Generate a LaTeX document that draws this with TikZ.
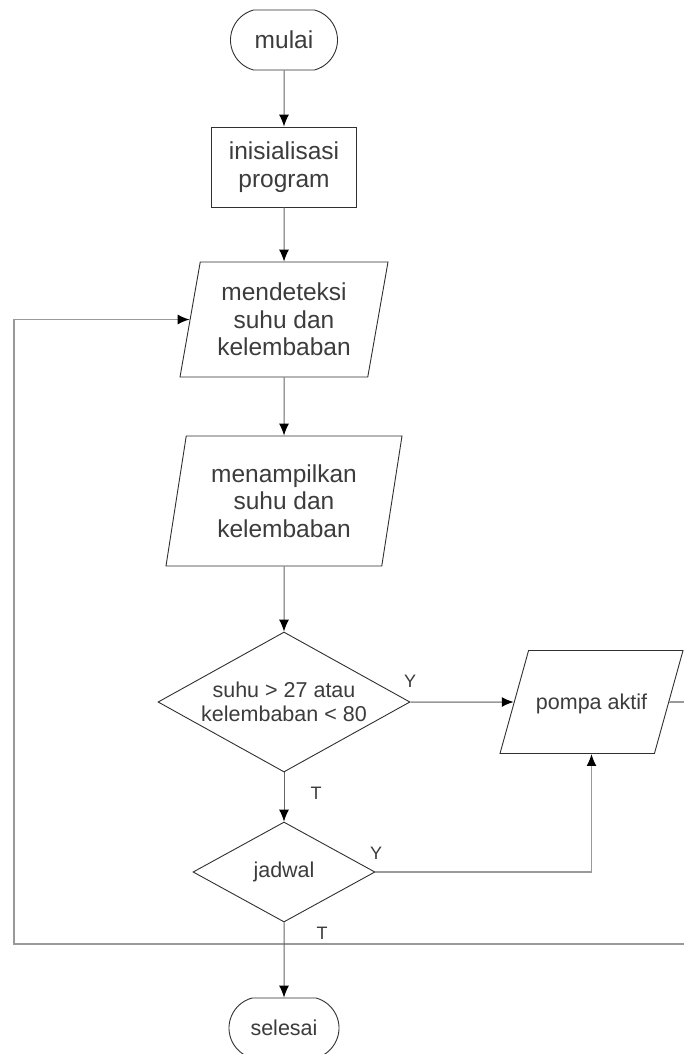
\documentclass[tikz,border=0pt]{standalone}
\usepackage{fontspec}
\setmainfont{Liberation Sans}
\usetikzlibrary{shapes.geometric,shapes.misc,arrows.meta}
\definecolor{txt}{HTML}{3C3C3C}
\definecolor{edgec}{HTML}{303030}
\definecolor{lnk}{HTML}{666666}
\definecolor{lnklight}{HTML}{999999}
\tikzset{
 base/.style={draw=edgec, line width=0.9pt, text=txt, inner sep=0pt, align=center, font=\fontsize{24.5}{27.5}\selectfont},
 term/.style={base, rounded rectangle, rounded rectangle arc length=150, minimum height=60pt},
 proc/.style={base, rectangle},
 io/.style={base, trapezium, trapezium left angle=74.5, trapezium right angle=105.5, trapezium stretches body},
 dec/.style={base, diamond, font=\fontsize{21.5}{23.5}\selectfont},
 arr/.style={draw=lnk, line width=1pt, -{Latex[length=12pt,width=10pt,black]}},
 larr/.style={draw=lnklight, line width=1.5pt, -{Latex[length=12pt,width=10pt,black]}},
 lab/.style={text=txt, font=\fontsize{18}{18}\selectfont, inner sep=0pt},
}
\begin{document}
\begin{tikzpicture}[x=1pt,y=-1pt]
\useasboundingbox (0,0) rectangle (684,1054);
\clip (0,0) rectangle (684,1054);
\fill[white] (0,0) rectangle (684,1054);

\node[term, minimum width=107pt] (start) at (284,40) {mulai};
\node[proc, minimum width=145pt, minimum height=80pt] (init) at (284,167) {inisialisasi\\program};
\node[io, minimum width=208pt, minimum height=115pt] (detect) at (284,319.5) {mendeteksi\\suhu dan\\kelembaban};
\node[io, minimum width=236pt, minimum height=130pt] (show) at (284,501) {menampilkan\\suhu dan\\kelembaban};
\node[dec, minimum width=252pt, minimum height=140pt, aspect=1.8] (cond) at (284,702) {suhu > 27 atau\\kelembaban < 80};
\node[io, minimum width=183pt, text height=59pt, text depth=44pt, font=\fontsize{21.5}{23.5}\selectfont] (pump) at (591.5,702) {pompa aktif};
\node[dec, minimum width=182pt, minimum height=100pt, aspect=1.82] (sched) at (284,872) {jadwal};
\node[term, minimum width=110pt, font=\fontsize{21.5}{23.5}\selectfont] (end) at (284,1028) {selesai};

\coordinate (br) at (720,944);
\coordinate (bl) at (14,944);

% loop back
\draw[larr] (pump.right side) -| (br) -- (bl) |- (detect.left side);

% main flow
\draw[arr] (start) -- (init);
\draw[arr] (init) -- (detect);
\draw[arr] (detect) -- (show);
\draw[arr] (show) -- (cond);
\draw[larr] (cond.east) -- (pump);
\draw[arr] (cond) -- (sched);
\draw[larr] (sched.east) -| (pump.center |- pump.south);
\draw[arr] (sched) -- (end);

\node[lab] (ly1) at (410,681) {Y};
\node[lab] (lt1) at (316,793) {T};
\node[lab] (ly2) at (376,853) {Y};
\node[lab] (lt2) at (322,933) {T};
\end{tikzpicture}
\end{document}
